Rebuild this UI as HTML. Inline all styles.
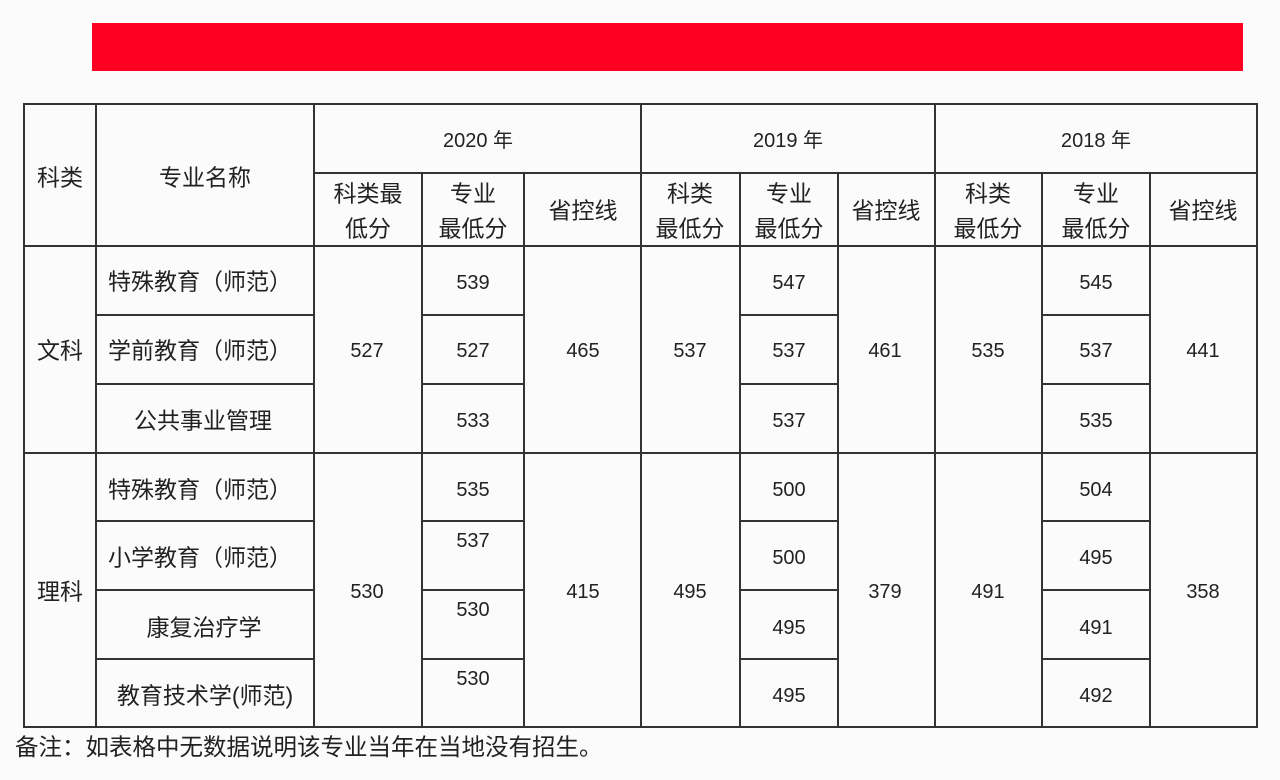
<!DOCTYPE html>
<html><head><meta charset="utf-8"><style>
html,body{margin:0;padding:0}
body{width:1280px;height:780px;position:relative;background:#fbfbfb;overflow:hidden;font-family:"Liberation Sans","Noto Sans CJK SC",sans-serif;color:#222}
.h{position:absolute;height:2px;background:#333}
.v{position:absolute;width:2px;background:#333}
.t{position:absolute;transform:translate(-50%,-50%);white-space:nowrap;font-size:23px;line-height:1}
.n{font-size:20px}
</style></head><body>
<div style="position:absolute;left:92px;top:23px;width:1151px;height:48px;background:#fe0022"></div>

<div class="h" style="left:24px;width:1234px;top:103px"></div>
<div class="h" style="left:314px;width:944px;top:172px"></div>
<div class="h" style="left:24px;width:1234px;top:245px"></div>
<div class="h" style="left:24px;width:1234px;top:452px"></div>
<div class="h" style="left:24px;width:1234px;top:726px"></div>

<div class="v" style="left:23px;top:103px;height:625px"></div>
<div class="v" style="left:95px;top:103px;height:625px"></div>
<div class="v" style="left:313px;top:103px;height:625px"></div>
<div class="v" style="left:421px;top:172px;height:556px"></div>
<div class="v" style="left:523px;top:172px;height:556px"></div>
<div class="v" style="left:640px;top:103px;height:625px"></div>
<div class="v" style="left:739px;top:172px;height:556px"></div>
<div class="v" style="left:837px;top:172px;height:556px"></div>
<div class="v" style="left:934px;top:103px;height:625px"></div>
<div class="v" style="left:1041px;top:172px;height:556px"></div>
<div class="v" style="left:1149px;top:172px;height:556px"></div>
<div class="v" style="left:1256px;top:103px;height:625px"></div>

<div class="h" style="left:96px;width:218px;top:314px"></div>
<div class="h" style="left:96px;width:218px;top:383px"></div>
<div class="h" style="left:96px;width:218px;top:520px"></div>
<div class="h" style="left:96px;width:218px;top:589px"></div>
<div class="h" style="left:96px;width:218px;top:658px"></div>
<div class="h" style="left:422px;width:102px;top:314px"></div>
<div class="h" style="left:422px;width:102px;top:383px"></div>
<div class="h" style="left:422px;width:102px;top:520px"></div>
<div class="h" style="left:422px;width:102px;top:589px"></div>
<div class="h" style="left:422px;width:102px;top:658px"></div>
<div class="h" style="left:740px;width:98px;top:314px"></div>
<div class="h" style="left:740px;width:98px;top:383px"></div>
<div class="h" style="left:740px;width:98px;top:520px"></div>
<div class="h" style="left:740px;width:98px;top:589px"></div>
<div class="h" style="left:740px;width:98px;top:658px"></div>
<div class="h" style="left:1042px;width:108px;top:314px"></div>
<div class="h" style="left:1042px;width:108px;top:383px"></div>
<div class="h" style="left:1042px;width:108px;top:520px"></div>
<div class="h" style="left:1042px;width:108px;top:589px"></div>
<div class="h" style="left:1042px;width:108px;top:658px"></div>

<div class="t" style="left:60px;top:178px">科类</div>
<div class="t" style="left:205px;top:178px">专业名称</div>
<div class="t n" style="left:478px;top:141px">2020 年</div>
<div class="t n" style="left:788px;top:141px">2019 年</div>
<div class="t n" style="left:1096px;top:141px">2018 年</div>

<div class="t" style="left:368px;top:194px">科类最</div>
<div class="t" style="left:368px;top:229px">低分</div>
<div class="t" style="left:473px;top:194px">专业</div>
<div class="t" style="left:473px;top:229px">最低分</div>
<div class="t" style="left:583px;top:211px">省控线</div>

<div class="t" style="left:690px;top:194px">科类</div>
<div class="t" style="left:690px;top:229px">最低分</div>
<div class="t" style="left:789px;top:194px">专业</div>
<div class="t" style="left:789px;top:229px">最低分</div>
<div class="t" style="left:886px;top:211px">省控线</div>

<div class="t" style="left:988px;top:194px">科类</div>
<div class="t" style="left:988px;top:229px">最低分</div>
<div class="t" style="left:1096px;top:194px">专业</div>
<div class="t" style="left:1096px;top:229px">最低分</div>
<div class="t" style="left:1203px;top:211px">省控线</div>

<div class="t" style="left:60px;top:351px">文科</div>
<div class="t" style="left:60px;top:592px">理科</div>
<div class="t" style="left:200px;top:282px">特殊教育（师范）</div>
<div class="t" style="left:200px;top:351px">学前教育（师范）</div>
<div class="t" style="left:203px;top:421px">公共事业管理</div>
<div class="t" style="left:200px;top:490px">特殊教育（师范）</div>
<div class="t" style="left:200px;top:558px">小学教育（师范）</div>
<div class="t" style="left:204px;top:628px">康复治疗学</div>
<div class="t" style="left:205px;top:696px">教育技术学(师范)</div>

<div class="t n" style="left:367px;top:351px">527</div>
<div class="t n" style="left:367px;top:592px">530</div>
<div class="t n" style="left:473px;top:283px">539</div>
<div class="t n" style="left:473px;top:351px">527</div>
<div class="t n" style="left:473px;top:421px">533</div>
<div class="t n" style="left:473px;top:490px">535</div>
<div class="t n" style="left:473px;top:541px">537</div>
<div class="t n" style="left:473px;top:610px">530</div>
<div class="t n" style="left:473px;top:679px">530</div>
<div class="t n" style="left:583px;top:351px">465</div>
<div class="t n" style="left:583px;top:592px">415</div>

<div class="t n" style="left:690px;top:351px">537</div>
<div class="t n" style="left:690px;top:592px">495</div>
<div class="t n" style="left:789px;top:283px">547</div>
<div class="t n" style="left:789px;top:351px">537</div>
<div class="t n" style="left:789px;top:421px">537</div>
<div class="t n" style="left:789px;top:490px">500</div>
<div class="t n" style="left:789px;top:558px">500</div>
<div class="t n" style="left:789px;top:628px">495</div>
<div class="t n" style="left:789px;top:696px">495</div>
<div class="t n" style="left:885px;top:351px">461</div>
<div class="t n" style="left:885px;top:592px">379</div>

<div class="t n" style="left:988px;top:351px">535</div>
<div class="t n" style="left:988px;top:592px">491</div>
<div class="t n" style="left:1096px;top:283px">545</div>
<div class="t n" style="left:1096px;top:351px">537</div>
<div class="t n" style="left:1096px;top:421px">535</div>
<div class="t n" style="left:1096px;top:490px">504</div>
<div class="t n" style="left:1096px;top:558px">495</div>
<div class="t n" style="left:1096px;top:628px">491</div>
<div class="t n" style="left:1096px;top:696px">492</div>
<div class="t n" style="left:1203px;top:351px">441</div>
<div class="t n" style="left:1203px;top:592px">358</div>

<div style="position:absolute;left:15px;top:733px;font-size:23.5px;line-height:28px;white-space:nowrap">备注：如表格中无数据说明该专业当年在当地没有招生。</div>
</body></html>
